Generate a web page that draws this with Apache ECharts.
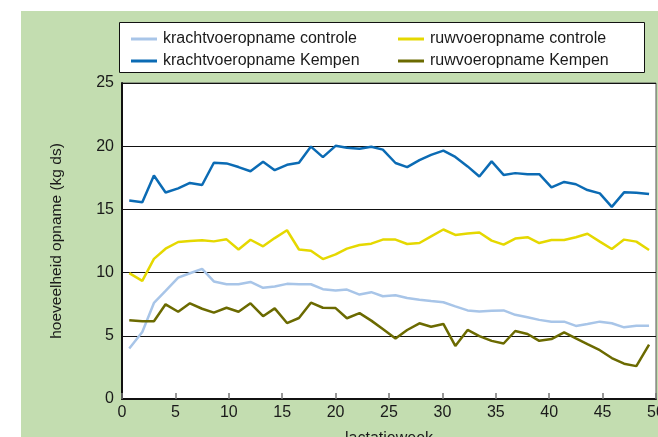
<!DOCTYPE html>
<html>
<head>
<meta charset="utf-8">
<script src="https://cdn.jsdelivr.net/npm/echarts@6/dist/echarts.min.js"></script>
<style>
    html, body { margin: 0; padding: 0; background: #fff; }
    #chart { width: 658px; height: 437px; }
</style>
</head>
<body>
<div id="chart"></div>
<script>
    let weeks = [0.68, 1.9, 2.99, 4.08, 5.26, 6.36, 7.5, 8.6, 9.79, 10.91, 12.03, 13.21, 14.3, 15.45, 16.57,
        17.69, 18.81, 20.0, 21.06, 22.24, 23.34, 24.42, 25.61, 26.7, 27.85, 28.94, 30.09, 31.21, 32.36,
        33.46, 34.61, 35.73, 36.82, 37.97, 39.07, 40.21, 41.4, 42.5, 43.58, 44.74, 45.86, 47.01, 48.16, 49.35];

    let krachtControle = [4.0, 5.3, 7.6, 8.55, 9.6, 9.95, 10.3, 9.3, 9.08, 9.08, 9.26, 8.8, 8.9, 9.11, 9.08,
        9.08, 8.69, 8.58, 8.66, 8.26, 8.45, 8.13, 8.21, 7.99, 7.86, 7.75, 7.65, 7.33, 7.01,
        6.93, 6.98, 7.01, 6.66, 6.47, 6.26, 6.12, 6.12, 5.78, 5.94, 6.12, 5.99, 5.67, 5.8, 5.8];
    let krachtKempen = [15.7, 15.57, 17.68, 16.34, 16.66, 17.09, 16.93, 18.69, 18.64, 18.35, 18.02, 18.77, 18.1, 18.53, 18.69,
        19.97, 19.14, 20.03, 19.87, 19.8, 19.95, 19.73, 18.67, 18.35, 18.9, 19.31, 19.65, 19.15, 18.4,
        17.6, 18.8, 17.73, 17.87, 17.79, 17.79, 16.75, 17.17, 16.99, 16.53, 16.27, 15.2, 16.35, 16.32, 16.21];
    let ruwControle = [9.96, 9.35, 11.09, 11.89, 12.42, 12.5, 12.55, 12.47, 12.63, 11.83, 12.6, 12.08, 12.73, 13.35, 11.83,
        11.73, 11.07, 11.44, 11.9, 12.18, 12.29, 12.61, 12.61, 12.26, 12.34, 12.87, 13.41, 12.98, 13.09,
        13.17, 12.53, 12.21, 12.69, 12.8, 12.34, 12.58, 12.58, 12.8, 13.07, 12.45, 11.87, 12.61, 12.45, 11.79];
    let ruwKempen = [6.23, 6.15, 6.15, 7.49, 6.9, 7.57, 7.14, 6.83, 7.22, 6.9, 7.57, 6.55, 7.17, 6.01, 6.41,
        7.62, 7.22, 7.19, 6.39, 6.79, 6.2, 5.54, 4.79, 5.46, 5.99, 5.72, 5.94, 4.2, 5.46,
        4.98, 4.6, 4.39, 5.38, 5.14, 4.6, 4.74, 5.27, 4.79, 4.34, 3.86, 3.24, 2.79, 2.6, 4.31];

    let seriesNames = ['krachtvoeropname controle', 'krachtvoeropname Kempen', 'ruwvoeropname controle', 'ruwvoeropname Kempen'];
    let seriesColors = ['#a8c5e8', '#0b6bb4', '#e5d800', '#6b6a00'];
    let seriesValues = [krachtControle, krachtKempen, ruwControle, ruwKempen];

    let ECharts = echarts.init(document.getElementById('chart'));

    let series = seriesValues.map((vals, k) => ({
        name: seriesNames[k],
        type: 'line',
        symbol: 'none',
        data: vals.map((v, i) => [weeks[i], v]),
        lineStyle: {color: seriesColors[k], width: 2.5},
        itemStyle: {color: seriesColors[k]},
        z: 3
    }));

    let legendBase = {
        orient: 'vertical',
        top: 26,
        itemWidth: 26,
        itemHeight: 3,
        itemGap: 6,
        icon: 'rect',
        textStyle: {fontFamily: 'Liberation Sans', fontSize: 16, color: '#1a1a1a', padding: [0, 0, 0, 1]}
    };

    let option = {
        backgroundColor: '#fff',
        animation: false,
        graphic: [
            {
                type: 'rect',
                shape: {x: 21, y: 11, width: 640, height: 430},
                style: {fill: '#c3ddb0'},
                z: -10
            },
            {
                type: 'rect',
                shape: {x: 119.5, y: 22.5, width: 525, height: 50},
                style: {fill: '#fff', stroke: '#111', lineWidth: 1},
                z: 0
            }
        ],
        legend: [
            Object.assign({}, legendBase, {left: 126, data: [seriesNames[0], seriesNames[1]]}),
            Object.assign({}, legendBase, {left: 393, data: [seriesNames[2], seriesNames[3]]})
        ],
        grid: {
            left: 122,
            top: 83,
            right: 2,
            bottom: 38,
            outerBoundsMode: 'none',
            show: true,
            backgroundColor: '#fff',
            borderColor: '#555',
            borderWidth: 1
        },
        xAxis: {
            type: 'value',
            min: 0,
            max: 50,
            interval: 5,
            name: 'lactatieweek',
            nameLocation: 'middle',
            nameGap: 32,
            nameTextStyle: {fontFamily: 'Liberation Sans', fontSize: 16, color: '#1a1a1a'},
            axisLine: {lineStyle: {color: '#111', width: 2}},
            axisTick: {inside: true, length: 6, lineStyle: {color: '#777', width: 1.5}},
            axisLabel: {fontFamily: 'Liberation Sans', fontSize: 16, color: '#1a1a1a', margin: 6},
            splitLine: {show: false}
        },
        yAxis: {
            type: 'value',
            min: 0,
            max: 25,
            interval: 5,
            name: 'hoeveelheid opname (kg ds)',
            nameLocation: 'middle',
            nameGap: 57,
            nameTextStyle: {fontFamily: 'Liberation Sans', fontSize: 15.5, color: '#1a1a1a'},
            axisLine: {show: true, lineStyle: {color: '#111', width: 2}},
            axisTick: {show: false},
            axisLabel: {fontFamily: 'Liberation Sans', fontSize: 16, color: '#1a1a1a', margin: 8},
            splitLine: {lineStyle: {color: '#111', width: 1}}
        },
        series: series
    };

    ECharts.setOption(option);
</script>
</body>
</html>
